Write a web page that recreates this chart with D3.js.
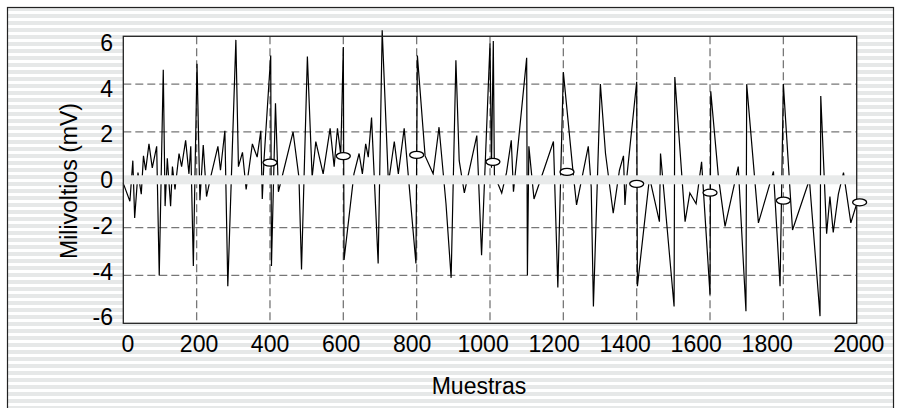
<!DOCTYPE html>
<html>
<head>
<meta charset="utf-8">
<script src="https://cdn.jsdelivr.net/npm/d3@7"></script>
<style>
  body { margin: 0; background: #fff; }
  svg text { font-family: "Liberation Sans", Arial, sans-serif; fill: #000; }
</style>
</head>
<body>
<script>
// samples (x) and millivolt readings (y) of the trace
let samples = [0, 18, 26, 31, 40, 49, 55, 61, 70, 79, 91, 98, 109, 114, 120, 129, 134, 141, 152, 159,
  170, 179, 184, 191, 201, 209, 218, 227, 238, 258, 265, 277, 285, 307, 314, 325, 335, 352, 365, 375,
  379, 384, 402, 404, 415, 423, 463, 479, 486, 502, 515, 525, 545, 564, 575, 584, 593, 600, 602, 629,
  643, 652, 661, 668, 677, 695, 706, 723, 739, 750, 766, 798, 802, 823, 845, 861, 880, 894, 907, 916,
  930, 964, 977, 1000, 1004, 1009, 1012, 1032, 1045, 1058, 1064, 1100, 1102, 1106, 1120, 1173, 1185, 1200, 1227, 1236,
  1268, 1276, 1282, 1301, 1315, 1336, 1353, 1364, 1368, 1373, 1400, 1402, 1435, 1462, 1465, 1502, 1504, 1532, 1545, 1562,
  1577, 1600, 1602, 1623, 1641, 1677, 1698, 1700, 1732, 1773, 1791, 1800, 1825, 1871, 1900, 1902, 1918, 1927, 1936, 1950,
  1964, 1984, 2000]
let mv = [-0.15, -0.9, 0.8, -1.6, 0.3, -0.6, 1.0, 0.4, 1.5, 0.5, 1.4, -4.0, 4.6, -1.1, 0.9, -1.1, 0.55, -0.4, 1.1, 0.55,
  1.65, 0.25, 1.4, -3.6, 4.85, -0.85, 1.45, -0.7, 0.1, 1.4, 0.4, 2.05, -4.45, 5.85, 0.55, 1.15, -0.4, 1.5, 0.95, 2.05,
  -0.8, 0.9, 5.2, -3.6, 3.2, -0.5, 2.0, 0.1, -3.75, 5.15, 0.1, 1.6, 0.25, 2.15, 0.55, 2.15, 1.05, 5.55, -3.35, 0.25,
  1.1, 0.25, 1.5, 0.95, 2.6, -3.5, 6.25, -0.15, 1.6, 0.25, 2.15, -3.5, 5.2, 1.0, 0.25, 2.2, -1.0, -4.1, 5.0, 0.8,
  -0.55, 1.85, -3.15, 5.7, 0.5, 5.8, 0.2, -0.55, 0.3, 1.65, -0.5, 5.1, -4.0, 1.4, -0.8, 1.6, -4.5, 4.5, 0.25, -1.05,
  1.4, -0.3, -5.3, 4.0, 1.1, -1.4, 0.4, 1.0, -1.05, 0.1, 4.1, -4.45, 0.1, -1.75, 1.1, -5.3, 4.3, -1.75, -0.55, -1.0,
  0.75, -4.8, 3.7, 0.1, -1.95, 0.55, -5.5, 4.0, -1.8, 0.35, -4.45, 4.0, -2.1, 0.0, -5.7, 3.5, -2.25, -0.7, -2.2, -0.6,
  0.3, -1.8, -1.0]

// the oval markers
let markerSamples = [400, 600, 800, 1008, 1210, 1400, 1600, 1800, 2008]
let markerMv = [0.72, 0.99, 1.04, 0.75, 0.33, -0.17, -0.54, -0.87, -0.94]

let xTicks = [0, 200, 400, 600, 800, 1000, 1200, 1400, 1600, 1800, 2000]
let yTicks = [6, 4, 2, 0, -2, -4, -6]

let width = 899, height = 408

let svg = d3.select('body').append('svg')
    .attr('width', width)
    .attr('height', height)

// striped background
let defs = svg.append('defs')
let pat = defs.append('pattern')
    .attr('id', 'stripes')
    .attr('patternUnits', 'userSpaceOnUse')
    .attr('width', 8)
    .attr('height', 7)
pat.append('rect').attr('width', 8).attr('height', 7).attr('fill', '#ffffff')
pat.append('rect').attr('width', 8).attr('height', 4).attr('fill', '#e6e8e8')

svg.append('rect')
    .attr('x', 7.5).attr('y', 7.5)
    .attr('width', 886).attr('height', 410)
    .attr('fill', 'url(#stripes)')
    .attr('stroke', '#222')
    .attr('stroke-width', 1.2)

let plotLeft = 123.3, plotRight = 856.7, plotTop = 36.3, plotBottom = 323.3

let x = d3.scaleLinear().domain([0, 2000]).range([plotLeft, plotRight])
let y = d3.scaleLinear().domain([6, -6]).range([plotTop, plotBottom])

// tick labels are not quite under their grid lines in the original
let xLabel = d3.scaleLinear().domain([0, 1800, 2000]).range([127.5, 766.7, 858.3])
let yLabel = d3.scaleLinear().domain([6, -6]).range([43, 317.5])

// plot area
svg.append('rect')
    .attr('x', plotLeft).attr('y', plotTop)
    .attr('width', plotRight - plotLeft).attr('height', plotBottom - plotTop)
    .attr('fill', '#fff')

// grid
svg.append('g')
    .selectAll('line')
    .data(xTicks.filter(d => d > 0 && d < 2000))
    .enter().append('line')
    .attr('x1', d => x(d)).attr('x2', d => x(d))
    .attr('y1', plotTop).attr('y2', plotBottom)
    .attr('stroke', '#777')
    .attr('stroke-width', 1.3)
    .attr('stroke-dasharray', '8,4')

svg.append('g')
    .selectAll('line')
    .data(yTicks.filter(d => d > -6 && d < 6))
    .enter().append('line')
    .attr('x1', plotLeft).attr('x2', plotRight)
    .attr('y1', d => y(d)).attr('y2', d => y(d))
    .attr('stroke', '#777')
    .attr('stroke-width', 1.3)
    .attr('stroke-dasharray', '8,4')

// the trace
let line = d3.line()
    .x(d => x(d[0]))
    .y(d => y(d[1]))

svg.append('path')
    .datum(samples.map((s, i) => [s, mv[i]]))
    .attr('d', line)
    .attr('fill', 'none')
    .attr('stroke', '#000')
    .attr('stroke-width', 1.2)
    .attr('stroke-linejoin', 'miter')

// grey band along zero
svg.append('rect')
    .attr('x', plotLeft).attr('y', y(0) - 4.5)
    .attr('width', plotRight - plotLeft).attr('height', 9)
    .attr('fill', '#e8eaea')

// plot frame
svg.append('rect')
    .attr('x', plotLeft).attr('y', plotTop)
    .attr('width', plotRight - plotLeft).attr('height', plotBottom - plotTop)
    .attr('fill', 'none')
    .attr('stroke', '#222')
    .attr('stroke-width', 1.3)

// markers
svg.append('g')
    .selectAll('ellipse')
    .data(markerSamples.map((s, i) => [s, markerMv[i]]))
    .enter().append('ellipse')
    .attr('cx', d => x(d[0]))
    .attr('cy', d => y(d[1]))
    .attr('rx', 7)
    .attr('ry', 3.5)
    .attr('fill', '#fff')
    .attr('stroke', '#000')
    .attr('stroke-width', 1.3)

// axes labels
let xAxis = d3.axisBottom(xLabel).tickValues(xTicks).tickSize(0).tickPadding(0)
    .tickFormat(d3.format('d'))
let gx = svg.append('g')
    .attr('transform', 'translate(0,' + 336 + ')')
    .call(xAxis)
gx.select('.domain').remove()
gx.selectAll('text').attr('font-size', 23).attr('dy', '0.71em')

let yAxis = d3.axisLeft(yLabel).tickValues(yTicks).tickSize(0).tickPadding(0)
    .tickFormat(d => d < 0 ? '-' + Math.abs(d) : d)
let gy = svg.append('g')
    .attr('transform', 'translate(113,0)')
    .call(yAxis)
gy.select('.domain').remove()
gy.selectAll('text').attr('font-size', 23)

svg.append('text')
    .attr('x', (plotLeft + plotRight) / 2 - 11)
    .attr('y', 394)
    .attr('text-anchor', 'middle')
    .attr('font-size', 23)
    .text('Muestras')

svg.append('text')
    .attr('transform', 'translate(77,' + 181 + ') rotate(-90)')
    .attr('text-anchor', 'middle')
    .attr('font-size', 23)
    .text('Milivoltios (mV)')
</script>
</body>
</html>
